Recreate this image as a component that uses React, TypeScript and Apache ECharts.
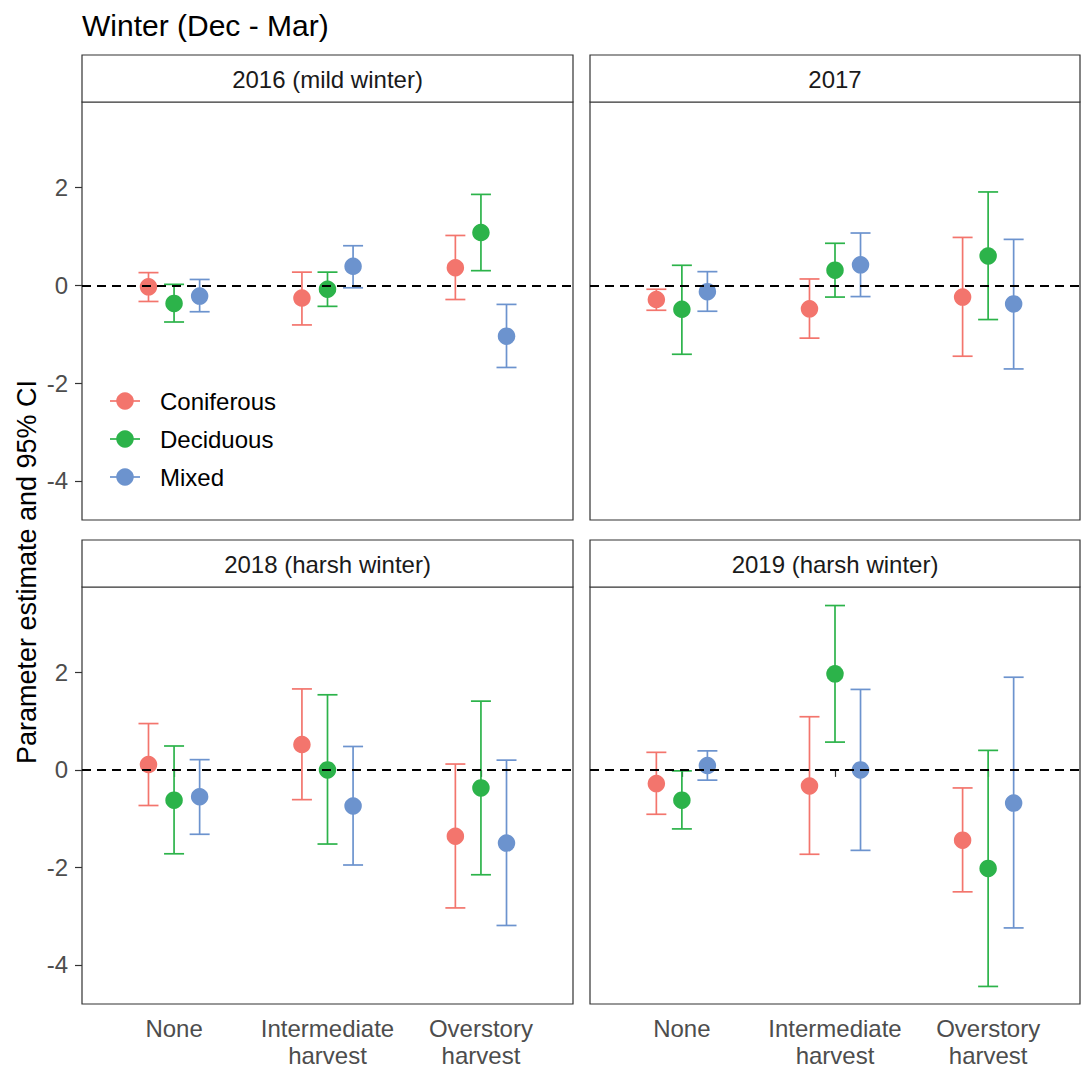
import React, { useEffect, useRef } from "react";
import * as echarts from "echarts";

const categories = ["None", "Intermediate\nharvest", "Overstory\nharvest"];
const forestTypes = ["Coniferous", "Deciduous", "Mixed"];
const panelTitles = ["2016 (mild winter)", "2017", "2018 (harsh winter)", "2019 (harsh winter)"];
const yTicks = [-4, -2, 0, 2];
const xTicks = [1, 2, 3];

// rows: Coniferous, Deciduous, Mixed; columns: None, Intermediate, Overstory
const est2016 = [[-0.03, -0.26, 0.36], [-0.37, -0.08, 1.08], [-0.22, 0.39, -1.04]];
const lo2016 = [[-0.33, -0.81, -0.29], [-0.75, -0.43, 0.3], [-0.54, -0.05, -1.68]];
const hi2016 = [[0.26, 0.27, 1.02], [0.02, 0.27, 1.86], [0.12, 0.81, -0.39]];

const est2017 = [[-0.29, -0.48, -0.24], [-0.49, 0.31, 0.6], [-0.13, 0.42, -0.38]];
const lo2017 = [[-0.51, -1.08, -1.45], [-1.41, -0.24, -0.7], [-0.53, -0.23, -1.71]];
const hi2017 = [[-0.08, 0.13, 0.98], [0.41, 0.86, 1.91], [0.28, 1.07, 0.94]];

const est2018 = [[0.11, 0.52, -1.36], [-0.62, 0.0, -0.37], [-0.55, -0.74, -1.5]];
const lo2018 = [[-0.73, -0.61, -2.83], [-1.72, -1.52, -2.15], [-1.32, -1.95, -3.19]];
const hi2018 = [[0.95, 1.66, 0.12], [0.49, 1.54, 1.41], [0.21, 0.48, 0.2]];

const est2019 = [[-0.28, -0.33, -1.44], [-0.62, 1.97, -2.02], [0.09, 0.0, -0.68]];
const lo2019 = [[-0.91, -1.73, -2.5], [-1.21, 0.57, -4.44], [-0.21, -1.65, -3.24]];
const hi2019 = [[0.36, 1.09, -0.37], [-0.02, 3.37, 0.4], [0.39, 1.65, 1.9]];

const estimates = [est2016, est2017, est2018, est2019];
const lowers = [lo2016, lo2017, lo2018, lo2019];
const uppers = [hi2016, hi2017, hi2018, hi2019];

const colors = ["#F3756D", "#2CB34A", "#6C93CE"];
const dodgeWidth = 0.5;

const FONT = "'Liberation Sans', Arial, Helvetica, sans-serif";

const grids = [
  { left: 82, top: 102, width: 491, height: 418 },
  { left: 590, top: 102, width: 490, height: 418 },
  { left: 82, top: 587, width: 491, height: 417 },
  { left: 590, top: 587, width: 490, height: 417 },
];

export default function App() {
  const ref = useRef<HTMLDivElement>(null);

  useEffect(() => {
    if (!ref.current) return;
    const chart = echarts.init(ref.current, null, { renderer: "svg" });

    const series: any[] = [];
    grids.forEach((g, p) => {
      // zero reference line
      series.push({
        type: "line",
        xAxisIndex: p,
        yAxisIndex: p,
        data: [],
        z: 1,
        silent: true,
        markLine: {
          silent: true,
          symbol: ["none", "none"],
          label: { show: false },
          lineStyle: { color: "#000", type: [9, 6], width: 2 },
          data: [{ yAxis: 0 }],
        },
      });
      forestTypes.forEach((ft, t) => {
        const offset = (t - 1) * (dodgeWidth / 3);
        const barData = categories.map((_, c) => [c + 1 + offset, lowers[p][t][c], uppers[p][t][c]]);
        const color = colors[t];
        series.push({
          type: "custom",
          name: ft,
          xAxisIndex: p,
          yAxisIndex: p,
          z: 2,
          encode: { x: 0, y: [1, 2] },
          data: barData,
          renderItem: (params: any, api: any) => {
            const x = api.value(0);
            const a = api.coord([x, api.value(1)]);
            const b = api.coord([x, api.value(2)]);
            const hw = 10;
            const st = { stroke: color, lineWidth: 1.7 };
            return {
              type: "group",
              children: [
                { type: "line", shape: { x1: a[0], y1: a[1], x2: b[0], y2: b[1] }, style: st },
                { type: "line", shape: { x1: a[0] - hw, y1: a[1], x2: a[0] + hw, y2: a[1] }, style: st },
                { type: "line", shape: { x1: b[0] - hw, y1: b[1], x2: b[0] + hw, y2: b[1] }, style: st },
              ],
            };
          },
        });
        series.push({
          type: "scatter",
          name: ft,
          xAxisIndex: p,
          yAxisIndex: p,
          z: 3,
          symbol: "circle",
          symbolSize: 17.5,
          itemStyle: { color, opacity: 1 },
          data: categories.map((_, c) => [c + 1 + offset, estimates[p][t][c]]),
        });
      });
    });

    const graphics: any[] = [];
    // title
    graphics.push({
      type: "text",
      x: 82,
      y: 25,
      style: { text: "Winter (Dec - Mar)", font: `30px ${FONT}`, fill: "#000", verticalAlign: "middle", align: "left" },
    });
    // y-axis title
    graphics.push({
      type: "text",
      x: 27,
      y: 572,
      rotation: Math.PI / 2,
      style: { text: "Parameter estimate and 95% CI", font: `27px ${FONT}`, fill: "#000", verticalAlign: "middle", align: "center" },
    });
    // strips
    grids.forEach((g, p) => {
      const sy = g.top - 47;
      graphics.push({
        type: "rect",
        shape: { x: g.left, y: sy, width: g.width, height: 47 },
        style: { fill: "#fff", stroke: "#333", lineWidth: 1.2 },
      });
      graphics.push({
        type: "text",
        x: g.left + g.width / 2,
        y: sy + 24.5,
        style: { text: panelTitles[p], font: `24px ${FONT}`, fill: "#1A1A1A", align: "center", verticalAlign: "middle" },
      });
    });
    // legend
    forestTypes.forEach((ft, t) => {
      const ly = 401 + t * 38;
      graphics.push({ type: "line", shape: { x1: 110, y1: ly, x2: 140, y2: ly }, style: { stroke: colors[t], lineWidth: 1.7 } });
      graphics.push({ type: "circle", shape: { cx: 125, cy: ly, r: 8.75 }, style: { fill: colors[t] } });
      graphics.push({
        type: "text",
        x: 160,
        y: ly,
        style: { text: ft, font: `24px ${FONT}`, fill: "#000", align: "left", verticalAlign: "middle" },
      });
    });

    const option: any = {
      animation: false,
      backgroundColor: "#fff",
      textStyle: { fontFamily: FONT },
      grid: grids.map((g) => ({ ...g, show: true, borderColor: "#333", borderWidth: 1.2, backgroundColor: "#fff", containLabel: false })),
      xAxis: grids.map((g, p) => ({
        type: "value",
        gridIndex: p,
        min: 0.4,
        max: 3.6,
        axisLine: { show: false },
        splitLine: { show: false },
        axisTick: { show: p >= 2, customValues: xTicks, length: 7, lineStyle: { color: "#333", width: 1.2 } },
        axisLabel: {
          show: p >= 2,
          customValues: xTicks,
          margin: 11,
          fontSize: 24,
          lineHeight: 27,
          color: "#4D4D4D",
          fontFamily: FONT,
          formatter: (v: number) => categories[Math.round(v) - 1] ?? "",
        },
      })),
      yAxis: grids.map((g, p) => ({
        type: "value",
        gridIndex: p,
        min: -4.8,
        max: 3.75,
        axisLine: { show: false },
        splitLine: { show: false },
        axisTick: { show: p % 2 === 0, customValues: yTicks, length: 7, lineStyle: { color: "#333", width: 1.2 } },
        axisLabel: {
          show: p % 2 === 0,
          customValues: yTicks,
          margin: 14,
          fontSize: 24,
          color: "#4D4D4D",
          fontFamily: FONT,
        },
      })),
      series,
      graphic: graphics,
    };

    chart.setOption(option);
    return () => chart.dispose();
  }, []);

  return (
    <div
      ref={ref}
      style={{ position: "absolute", left: 0, top: 0, width: 1082, height: 1069, background: "#fff" }}
    />
  );
}
